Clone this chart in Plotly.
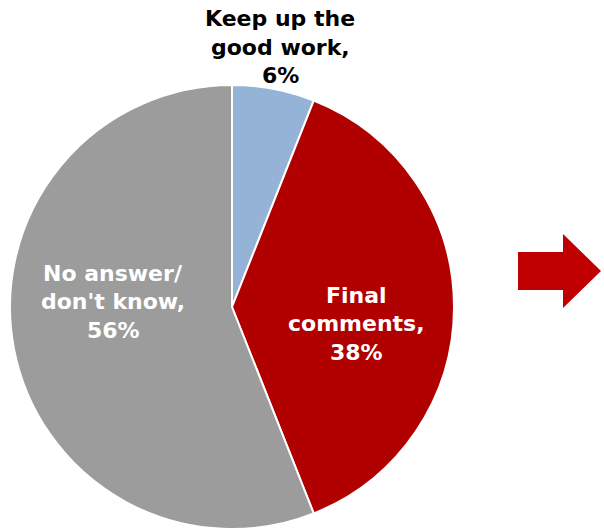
import plotly.graph_objects as go

categories = ["Keep up the<br>good work", "Final<br>comments", "No answer/<br>don't know"]
values = [6, 38, 56]
colors = ["#95B3D7", "#B00000", "#9C9C9C"]

W, H = 604, 532


def px_x(x):
    return x / W


def px_y(y):
    return 1 - y / H


fig = go.Figure(go.Pie(
    labels=categories,
    values=values,
    sort=False,
    direction="clockwise",
    rotation=0,
    marker=dict(colors=colors, line=dict(color="white", width=2)),
    textinfo="none",
    hoverinfo="label+percent",
    domain=dict(x=[px_x(9), px_x(455)], y=[px_y(529), px_y(85)]),
    showlegend=False,
))

# label line centres (x, first-line y, line step, colour)
label_pos = [(280, 19, 28.5, "black"), (356, 295, 28.5, "white"), (113, 273, 28.5, "white")]
for cat, v, (px, py, step, col) in zip(categories, values, label_pos):
    lines = cat.split("<br>")
    lines[-1] = lines[-1] + ","
    lines.append(f"{v}%")
    for i, ln in enumerate(lines):
        cy = py + i * step
        if cy < 20:
            fig.add_annotation(
                x=px_x(px), y=1, xref="paper", yref="paper",
                text=f"<b>{ln}</b>", showarrow=False,
                font=dict(family="DejaVu Sans", size=22, color=col),
                xanchor="center", yanchor="top", borderpad=0, yshift=-5,
            )
        else:
            fig.add_annotation(
                x=px_x(px), y=px_y(cy), xref="paper", yref="paper",
                text=f"<b>{ln}</b>", showarrow=False,
                font=dict(family="DejaVu Sans", size=22, color=col),
                xanchor="center", yanchor="middle", borderpad=0,
            )

# arrow shape
pts = [(518, 252), (563, 252), (563, 234), (601, 271), (563, 308), (563, 290), (518, 290)]
path = "M " + " L ".join(f"{px_x(x)},{px_y(y)}" for x, y in pts) + " Z"
fig.add_shape(type="path", path=path, xref="paper", yref="paper",
              fillcolor="#C00000", line=dict(width=0))

fig.update_layout(
    width=W, height=H,
    margin=dict(l=0, r=0, t=0, b=0),
    paper_bgcolor="white", plot_bgcolor="white",
)

fig.write_html("out.html", config={"displayModeBar": False},
               post_script="document.body.style.margin='0';")
